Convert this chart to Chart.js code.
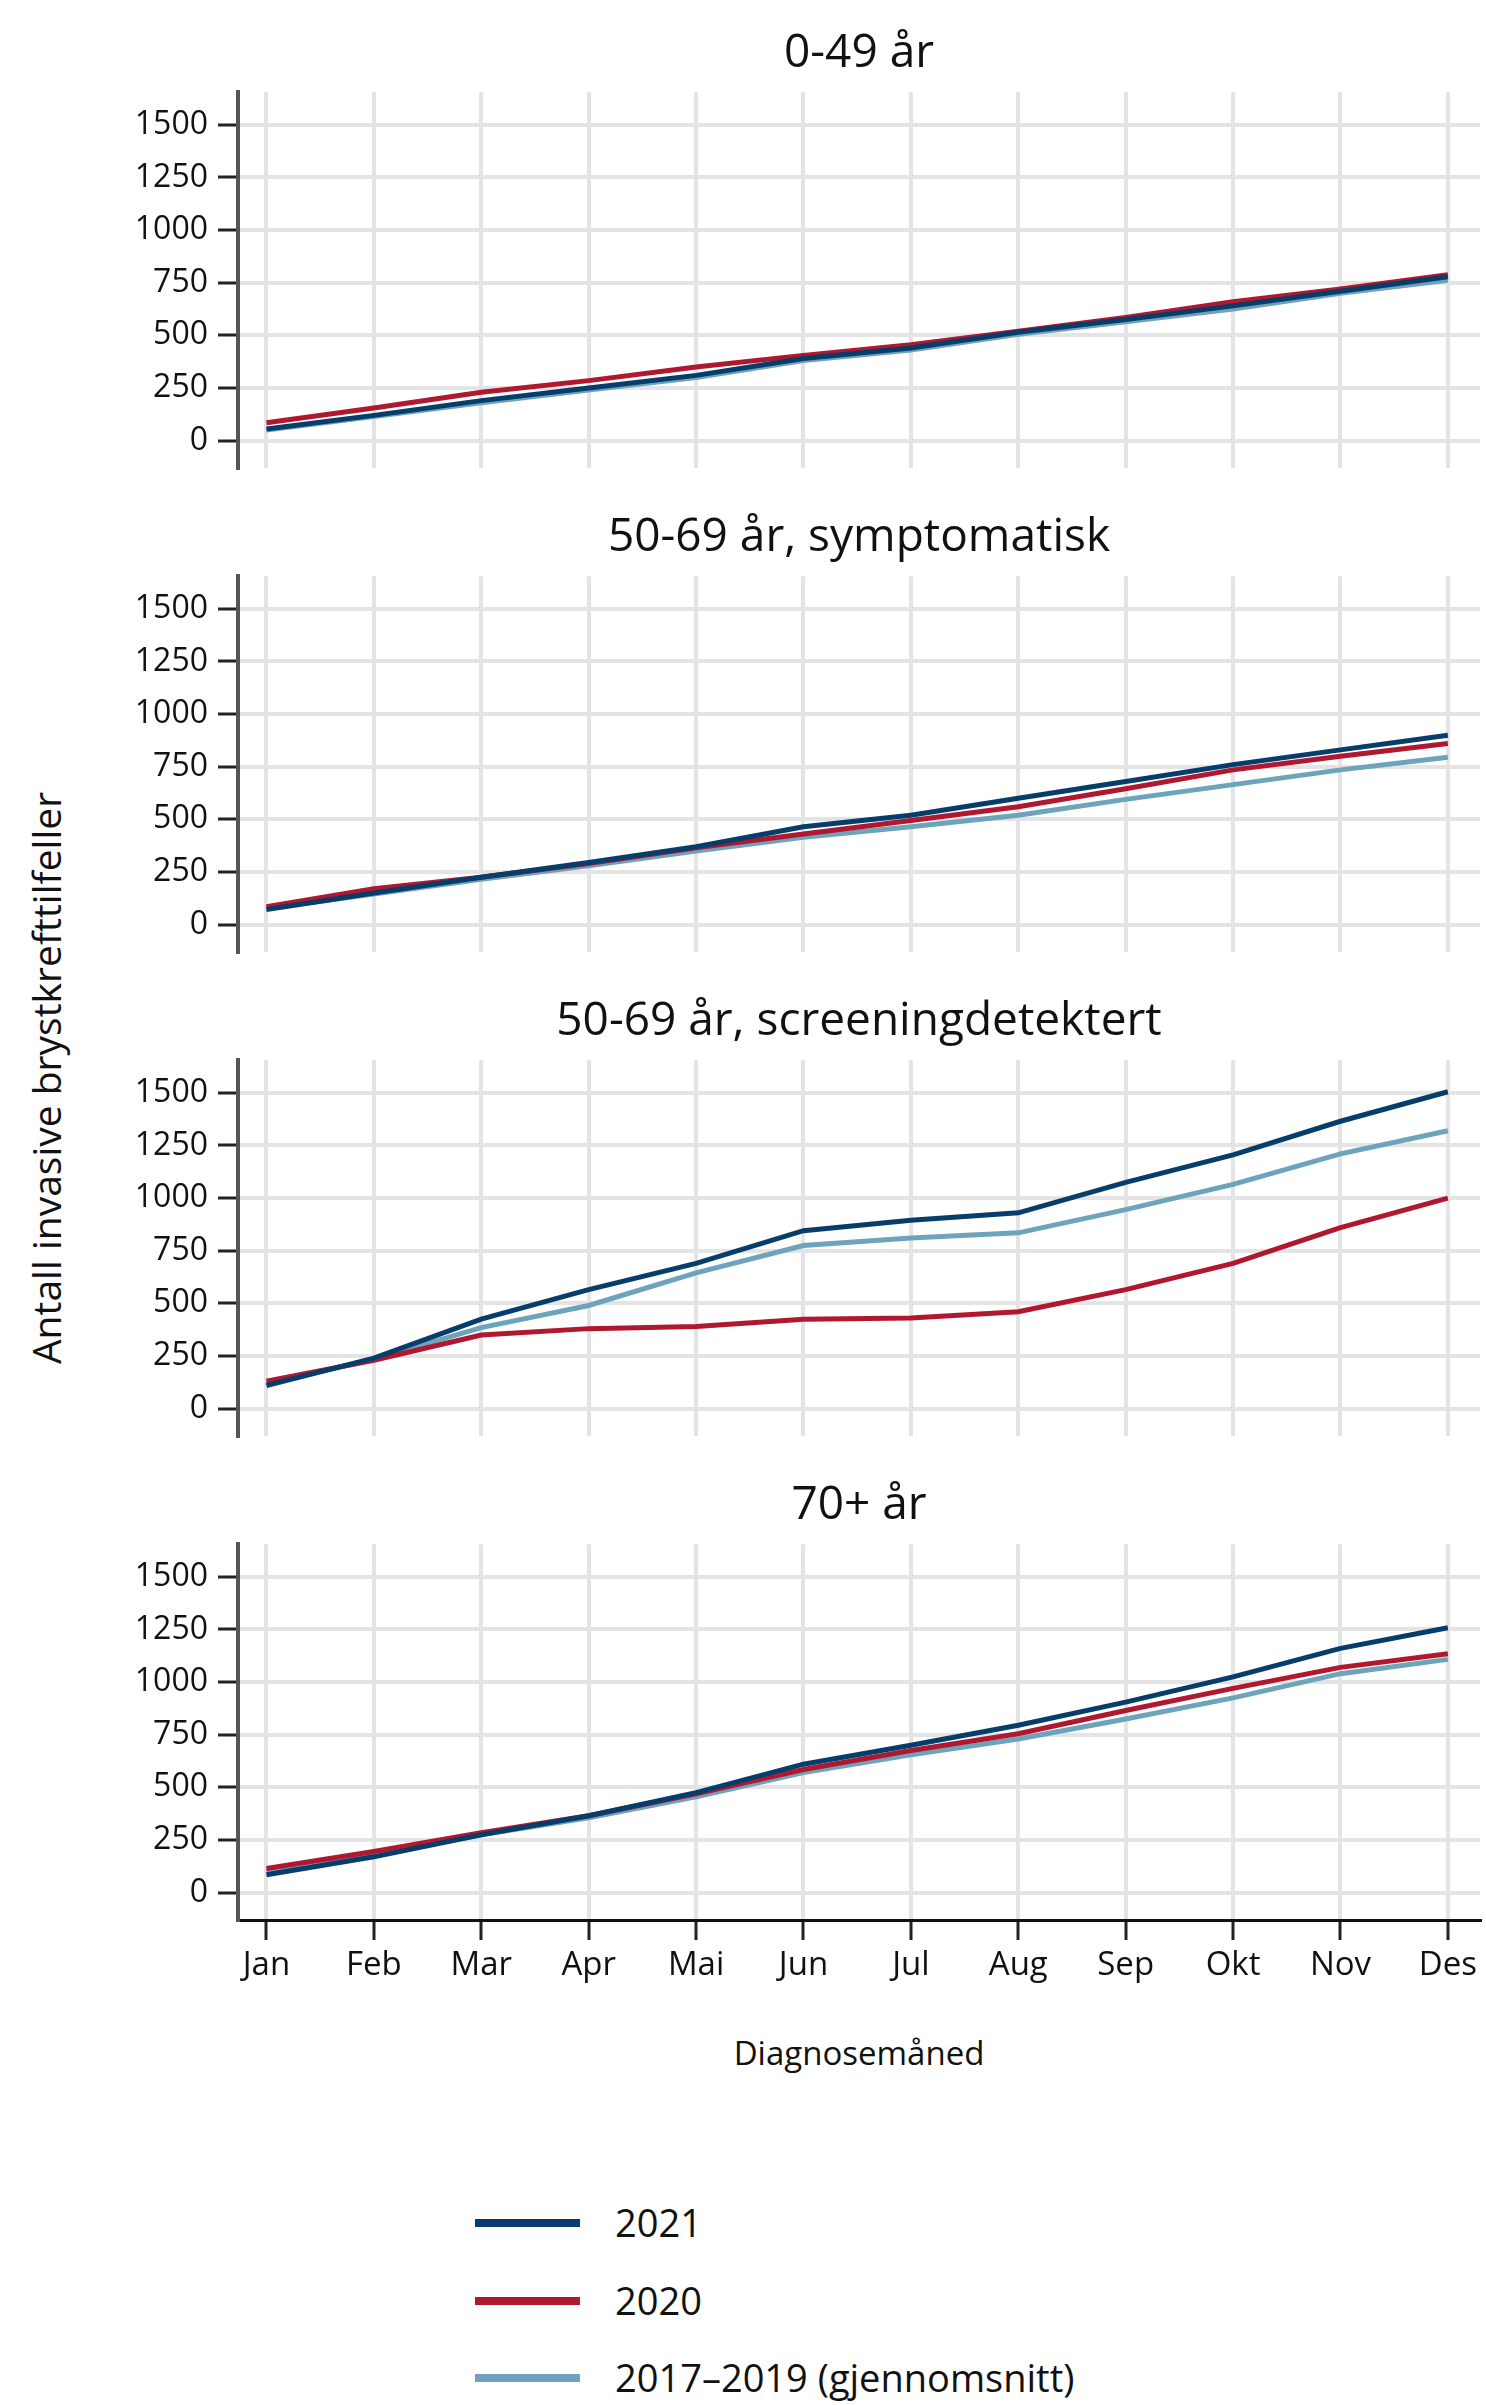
<!DOCTYPE html>
<html lang="no">
<head>
<meta charset="utf-8">
<title>Antall invasive brystkrefttilfeller per diagnosemåned</title>
<script src="https://cdn.jsdelivr.net/npm/chart.js@4.4.1/dist/chart.umd.min.js"></script>
<style>
  html, body { margin: 0; padding: 0; background: #fff; }
  body { width: 1486px; height: 2405px; position: relative; overflow: hidden; font-family: 'Open Sans', sans-serif; color: #111; }
  .panel { position: absolute; left: 0; }
  #yTitle { position: absolute; left: 45px; top: 1078px; transform: translate(-50%, -50%) rotate(-90deg); white-space: nowrap; font-size: 39px; line-height: 1; }
  #xTitle { position: absolute; left: 859px; top: 2052px; transform: translate(-50%, -50%); white-space: nowrap; font-size: 33px; line-height: 1; }
  .item { position: absolute; left: 475px; height: 0; }
  .swatch { position: absolute; left: 0; top: -4px; width: 105px; height: 8px; }
  .label { position: absolute; left: 140px; top: 0; transform: translateY(-50%); white-space: nowrap; font-size: 38px; line-height: 1.2; }
</style>
</head>
<body>
<div id="yTitle">Antall invasive brystkrefttilfeller</div>
<div id="xTitle">Diagnosemåned</div>
<div id="legend"></div>

<script>
const months = ['Jan', 'Feb', 'Mar', 'Apr', 'Mai', 'Jun', 'Jul', 'Aug', 'Sep', 'Okt', 'Nov', 'Des'];
const yTicks = [0, 250, 500, 750, 1000, 1250, 1500];
const seriesLabels = ['2021', '2020', '2017–2019 (gjennomsnitt)'];
const panelTitles = ['0-49 år', '50-69 år, symptomatisk', '50-69 år, screeningdetektert', '70+ år'];

// 0-49 år
const young2021 = [55, 120, 190, 250, 310, 390, 440, 515, 575, 640, 710, 778];
const young2020 = [85, 155, 230, 285, 350, 405, 455, 520, 585, 660, 720, 788];
const youngAvg = [50, 115, 180, 240, 300, 380, 430, 505, 565, 625, 700, 762];

// 50-69 år, symptomatisk
const sympt2021 = [72, 150, 225, 295, 370, 465, 520, 600, 680, 760, 830, 900];
const sympt2020 = [85, 170, 225, 290, 365, 430, 495, 560, 645, 735, 800, 860];
const symptAvg = [75, 145, 215, 280, 350, 415, 465, 520, 595, 665, 735, 795];

// 50-69 år, screeningdetektert
const screen2021 = [110, 240, 425, 565, 690, 845, 895, 930, 1075, 1205, 1365, 1505];
const screen2020 = [130, 230, 350, 380, 390, 425, 430, 460, 565, 690, 860, 1000];
const screenAvg = [115, 235, 385, 490, 645, 775, 810, 835, 945, 1065, 1210, 1320];

// 70+ år
const old2021 = [85, 170, 275, 365, 475, 610, 700, 795, 905, 1025, 1160, 1258];
const old2020 = [115, 195, 285, 365, 470, 585, 675, 755, 865, 970, 1070, 1135];
const oldAvg = [100, 180, 275, 355, 455, 570, 655, 730, 825, 925, 1040, 1108];

const panelData = [
    [young2021, young2020, youngAvg],
    [sympt2021, sympt2020, symptAvg],
    [screen2021, screen2020, screenAvg],
    [old2021, old2020, oldAvg]
];

const colors = ['#063d6b', '#b0182f', '#6ea4bb'];
const font = 'Open Sans';
const gridColor = '#e4e4e4';
const panelStep = 484;
const panelOffset = 2;

panelTitles.forEach((title, i) => {
    const last = i === panelTitles.length - 1;
    const canvas = document.createElement('canvas');
    canvas.width = 1486;
    canvas.height = last ? 540 : panelStep;
    canvas.className = 'panel';
    canvas.style.top = (i * panelStep + panelOffset) + 'px';
    document.body.appendChild(canvas);

    new Chart(canvas, {
        type: 'line',
        data: {
            datasets: panelData[i].map((values, k) => ({
                label: seriesLabels[k],
                data: values.map((v, m) => ({ x: m, y: v })),
                borderColor: colors[k],
                backgroundColor: colors[k],
                borderWidth: 5,
                pointRadius: 0,
                tension: 0,
                fill: false
            }))
        },
        options: {
            responsive: false,
            animation: false,
            layout: {
                padding: { top: 0, right: 6, bottom: last ? 0 : 18, left: 0 }
            },
            plugins: {
                legend: { display: false },
                tooltip: { enabled: false },
                title: {
                    display: true,
                    text: title,
                    fullSize: false,
                    color: '#111',
                    font: { family: font, size: 46, weight: 'normal', lineHeight: 1.2 },
                    padding: { top: 24, bottom: 11 }
                }
            },
            scales: {
                x: {
                    type: 'linear',
                    min: -0.265,
                    max: 11.299,
                    afterBuildTicks: s => { s.ticks = months.map((_, m) => ({ value: m })); },
                    afterFit: s => { s.height = last ? 74 : 0; },
                    grid: {
                        color: gridColor,
                        lineWidth: 4,
                        drawTicks: last,
                        tickLength: 20,
                        tickColor: '#222',
                        tickWidth: 3
                    },
                    border: { display: last, color: '#111', width: 3 },
                    ticks: {
                        display: last,
                        autoSkip: false,
                        maxRotation: 0,
                        padding: 6,
                        color: '#111',
                        font: { family: font, size: 33 },
                        callback: v => months[v]
                    }
                },
                y: {
                    min: -130,
                    max: 1655,
                    afterBuildTicks: s => { s.ticks = yTicks.map(v => ({ value: v })); },
                    afterFit: s => {
                        s.width = 238;
                        s.paddingTop = 0;
                        s.paddingBottom = 0;
                    },
                    grid: {
                        color: gridColor,
                        lineWidth: 4,
                        tickLength: 20,
                        tickColor: '#222',
                        tickWidth: 3
                    },
                    border: { color: '#555', width: 4 },
                    ticks: {
                        padding: 10,
                        color: '#111',
                        font: { family: font, size: 32 },
                        callback: v => String(v)
                    }
                }
            }
        }
    });
});

// legend below the last panel
const legend = document.getElementById('legend');
const legendY = [2223, 2301, 2378];
seriesLabels.forEach((label, k) => {
    const item = document.createElement('div');
    item.className = 'item';
    item.style.top = legendY[k] + 'px';
    item.innerHTML = '<div class="swatch" style="background:' + colors[k] + '"></div>' +
        '<div class="label">' + label + '</div>';
    legend.appendChild(item);
});
</script>
</body>
</html>
